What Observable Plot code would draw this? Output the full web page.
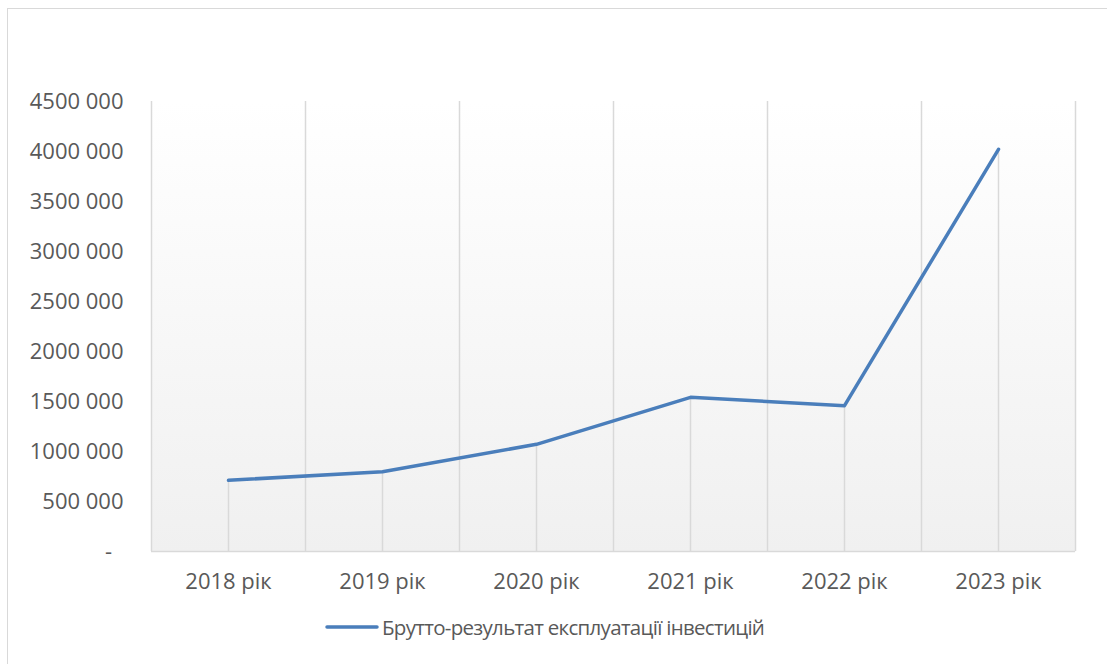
<!DOCTYPE html>
<html><head><meta charset="utf-8">
<script src="https://cdn.jsdelivr.net/npm/d3@7"></script>
<script src="https://cdn.jsdelivr.net/npm/@observablehq/plot@0.6"></script>
<style>
body{margin:0;background:#fff;font-family:"Open Sans",sans-serif;}
#chart{position:relative;width:1107px;height:664px;overflow:hidden;background:#fff;}
#frame{position:absolute;left:7px;top:8px;width:1200px;height:700px;border-left:1.5px solid #d9d9d9;border-top:1.5px solid #d9d9d9;}
#plot{position:absolute;left:0;top:0;}
#legend{position:absolute;top:613px;left:325px;display:flex;align-items:center;color:#595959;font-size:20.5px;letter-spacing:-0.7px;font-family:"Open Sans",sans-serif;white-space:nowrap;}
#legend svg{display:block;margin-right:3px;}
</style></head>
<body><div id="chart"><div id="frame"></div><div id="plot"></div><div id="legend"></div></div>
<script>
const years = ["2018 рік", "2019 рік", "2020 рік", "2021 рік", "2022 рік", "2023 рік"];
const values = [712000, 798000, 1072000, 1542000, 1458000, 4022000];
const yTicks = [0, 500000, 1000000, 1500000, 2000000, 2500000, 3000000, 3500000, 4000000, 4500000];
const seriesName = "Брутто-результат експлуатації інвестицій";
const lineColor = "#4a7ebb";
const gridColor = "#d9d9d9";

const data = years.map((year, i) => ({i, year, value: values[i]}));
const boundaries = years.map((_, i) => i + 0.5);
const fmt = v => v === 0 ? "-\u00a0\u00a0" : `${Math.floor(v / 1000)} ${String(v % 1000).padStart(3, "0")}`;

const plot = Plot.plot({
  width: 1107, height: 600,
  marginLeft: 151, marginRight: 32, marginTop: 101, marginBottom: 49,
  style: {fontFamily: "'Open Sans', sans-serif", fontSize: "22px", color: "#595959", background: "transparent", overflow: "visible"},
  x: {type: "linear", domain: [-0.5, years.length - 0.5]},
  y: {domain: [0, 4500000]},
  marks: [
    Plot.frame({fill: "url(#plotBg)", stroke: null}),
    Plot.ruleX([-0.5, ...boundaries], {stroke: gridColor, strokeWidth: 1.5}),
    Plot.ruleX(data, {x: "i", y1: 0, y2: "value", stroke: gridColor, strokeWidth: 1.5}),
    Plot.ruleY([0], {stroke: gridColor, strokeWidth: 1.5}),
    Plot.line(data, {x: "i", y: "value", stroke: lineColor, strokeWidth: 3.5, strokeLinecap: "round", strokeLinejoin: "round"}),
    Plot.axisX({ticks: data.map(d => d.i), tickFormat: i => years[i], tickSize: 0, tickPadding: 22, label: null}),
    Plot.axisY({ticks: yTicks, tickFormat: fmt, tickSize: 0, tickPadding: 28, label: null})
  ]
});

const defs = d3.select(plot).insert("defs", ":first-child");
const g = defs.append("linearGradient").attr("id", "plotBg").attr("x1", 0).attr("y1", 0).attr("x2", 0).attr("y2", 1);
g.append("stop").attr("offset", "0%").attr("stop-color", "#ffffff");
g.append("stop").attr("offset", "100%").attr("stop-color", "#f0f0f0");

document.getElementById("plot").appendChild(plot);

const legend = d3.select("#legend");
const ls = legend.append("svg").attr("width", 54).attr("height", 10);
ls.append("line").attr("x1", 2).attr("x2", 52).attr("y1", 5).attr("y2", 5)
  .attr("stroke", lineColor).attr("stroke-width", 3.5).attr("stroke-linecap", "round");
legend.append("span").text(seriesName);
</script>
</body></html>
